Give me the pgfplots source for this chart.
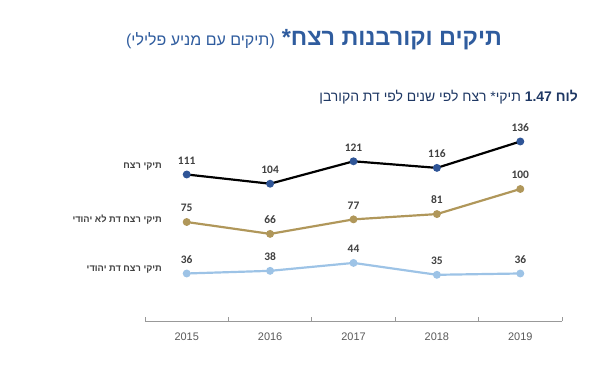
\documentclass[border=0pt]{standalone}
\usepackage{pgfplots}
\pgfplotsset{compat=1.18}
\usepackage{fontspec}
\setmainfont{Liberation Sans}
\newfontfamily\heb[Script=Hebrew]{Liberation Sans}
\newfontfamily\calib{Carlito}
\TeXXeTstate=1
\definecolor{titleblue}{HTML}{2F5C9E}
\definecolor{navy}{HTML}{1F3864}
\definecolor{gold}{HTML}{B0975A}
\definecolor{lblue}{HTML}{9DC3E6}
\definecolor{mblue}{HTML}{2F5597}
\definecolor{numgray}{HTML}{404040}
\definecolor{tickgray}{HTML}{595959}
\begin{document}
\begin{tikzpicture}[x=1bp,y=1bp]
\path[use as bounding box] (0,0) rectangle (601,367);
\begin{axis}[
  at={(145bp,46bp)}, anchor=south west,
  scale only axis, width=417bp, height=198bp,
  xmin=-0.5, xmax=4.5, ymin=0, ymax=150,
  axis x line*=bottom, axis y line=none,
  x axis line style={draw=gray!80, line width=0.8pt, -},
  xtick={0,1,2,3,4},
  xticklabels={2015,2016,2017,2018,2019},
  major tick length=0pt,
  minor xtick={-0.5,0.5,1.5,2.5,3.5,4.5},
  minor tick length=4bp,
  tick align=inside,
  every tick/.style={draw=gray!80, line width=0.8pt},
  xticklabel style={font=\fontsize{11}{13}\selectfont, text=tickgray, yshift=-8bp},
  clip=false,
  /pgf/number format/assume math mode=true,
  nodes near coords,
  every node near coord/.append style={font=\calib\bfseries\fontsize{11.5}{13}\selectfont, text=numgray, anchor=south, inner sep=0pt, yshift=9bp},
]
\addplot[black, line width=2.2pt, mark=*, mark size=2.8pt, mark options={fill=mblue, draw=mblue}]
  coordinates {(0,111) (1,104) (2,121) (3,116) (4,136)};
\addplot[gold, line width=2.2pt, mark=*, mark size=2.8pt, mark options={fill=gold, draw=gold}]
  coordinates {(0,75) (1,66) (2,77) (3,81) (4,100)};
\addplot[lblue, line width=2.2pt, mark=*, mark size=2.8pt, mark options={fill=lblue, draw=lblue}]
  coordinates {(0,36) (1,38) (2,44) (3,35) (4,36)};
\node[anchor=east, inner sep=0pt, font=\heb\bfseries\fontsize{9.3}{11}\selectfont, text=numgray] at (axis cs:-0.296,116.7) {\beginR תיקי רצח\endR};
\node[anchor=east, inner sep=0pt, font=\heb\bfseries\fontsize{9.3}{11}\selectfont, text=numgray] at (axis cs:-0.296,76.5) {\beginR תיקי רצח דת לא יהודי\endR};
\node[anchor=east, inner sep=0pt, font=\heb\bfseries\fontsize{9.3}{11}\selectfont, text=numgray] at (axis cs:-0.296,38.6) {\beginR תיקי רצח דת יהודי\endR};
\end{axis}
\node[anchor=center, inner sep=0pt, text=titleblue] at (314,327) {\heb\beginR{\bfseries\fontsize{23.5}{28}\selectfont תיקים וקורבנות רצח\hbox{*}}\hspace{7bp}{\fontsize{16}{19}\selectfont\hbox{(}תיקים עם מניע פלילי\hbox{)}}\endR};
\node[anchor=east, inner sep=0pt, text=navy] at (578,270) {\heb\fontsize{14}{16}\selectfont\beginR{\bfseries לוח \hbox{1.47}} תיקי\hbox{*} רצח לפי שנים לפי דת הקורבן\endR};
\end{tikzpicture}
\end{document}
